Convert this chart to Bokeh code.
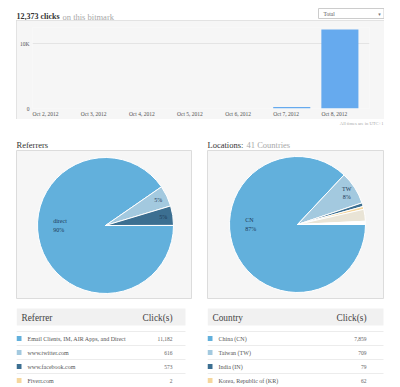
import numpy as np
from bokeh.plotting import figure
from bokeh.layouts import column, row
from bokeh.models import Range1d, FixedTicker, ColumnDataSource
from bokeh.core.properties import value
from bokeh.embed import file_html
from bokeh.resources import INLINE

# ---------------- data ----------------
dates = ["Oct 2, 2012", "Oct 3, 2012", "Oct 4, 2012", "Oct 5, 2012",
         "Oct 6, 2012", "Oct 7, 2012", "Oct 8, 2012"]
daily_clicks = [0, 0, 0, 0, 0, 213, 12160]
y_ticks = [0, 10000]
y_tick_labels = ["0", "10K"]

referrers = ["Email Clients, IM, AIR Apps, and Direct", "www.twitter.com",
             "www.facebook.com", "Fiverr.com"]
referrer_short = ["direct", "", "", ""]
referrer_clicks = [11182, 616, 573, 2]
referrer_colors = ["#62b0dc", "#a3c9df", "#3c6f91", "#f5d79e"]

countries = ["China (CN)", "Taiwan (TW)", "India (IN)", "Korea, Republic of (KR)"]
country_codes = ["CN", "TW", "IN", "KR"]
country_clicks = [7859, 709, 79, 62]
country_colors = ["#62b0dc", "#a3c9df", "#3c6f91", "#f5d79e"]
other_country_codes = ["", ""]
other_country_clicks = [254, 70]
other_country_colors = ["#e9e4d6", "#ffffff"]
n_countries = 41

# ---------------- styles ----------------
FONT = "Liberation Serif"
PANEL = "#f6f6f6"
BORDER = "#dcdcdc"
DARK = "#333333"
GREY = "#a8a8a8"
BAR = "#66aaee"


def base_fig(w, h, xr, yr, **kw):
    p = figure(width=w, height=h, x_range=xr, y_range=yr, output_backend="svg",
               toolbar_location=None, x_axis_location=None, y_axis_location=None,
               min_border=0, min_border_left=0, min_border_right=0,
               min_border_top=0, min_border_bottom=0,
               outline_line_color=None, background_fill_color="white",
               border_fill_color="white", **kw)
    p.xgrid.visible = False
    p.ygrid.visible = False
    return p


# ---------------- header line ----------------
total = sum(daily_clicks)
head = base_fig(384, 20, Range1d(0, 384), Range1d(20, 0))
head.text(x=[16], y=[16], text=[f"{total:,} clicks"], text_font=value(FONT),
          text_font_size="8px", text_font_style="bold", text_color=DARK,
          text_baseline="alphabetic")
head.text(x=[62], y=[16], text=["on this bitmark"], text_font=value(FONT),
          text_font_size="8.5px", text_color=GREY, text_baseline="alphabetic")
head.quad(left=[318], right=[383.5], top=[8], bottom=[18], fill_color="white",
          line_color="#cccccc", line_width=1)
head.text(x=[323], y=[13], text=["Total"], text_font=value(FONT),
          text_font_size="5.5px", text_color="#555555", text_baseline="middle")
head.text(x=[379], y=[13], text=["\u25be"], text_font=value("DejaVu Sans"),
          text_font_size="5px", text_color="#777777", text_baseline="middle",
          text_align="center")

# ---------------- bar chart ----------------
idx = np.arange(len(dates))
bar = figure(width=368, height=99, x_range=Range1d(0, len(dates)),
             y_range=Range1d(0, 12462), output_backend="svg", toolbar_location=None,
             min_border_left=16, min_border_right=15, min_border_top=7,
             min_border_bottom=11, background_fill_color=PANEL,
             border_fill_color=PANEL, outline_line_color=None,
             styles={"outline": f"1px solid {BORDER}", "outline-offset": "-1px"})
bar.vbar(x=idx + 0.385, top=daily_clicks, width=0.77, fill_color=BAR,
         line_color=None)
xt = [float(v) for v in idx + 0.27]
bar.xaxis.ticker = FixedTicker(ticks=xt)
bar.xaxis.major_label_overrides = {t: d for t, d in zip(xt, dates)}
yt = FixedTicker(ticks=y_ticks)
bar.yaxis.ticker = yt
bar.ygrid.ticker = yt
bar.yaxis.major_label_overrides = {float(t): l for t, l in zip(y_ticks, y_tick_labels)}
bar.xgrid.visible = False
bar.ygrid.grid_line_color = "#e4e4e4"
for ax in (bar.xaxis[0], bar.yaxis[0]):
    ax.axis_line_color = None
    ax.major_tick_line_color = None
    ax.minor_tick_line_color = None
    ax.major_tick_out = 0
    ax.major_tick_in = 0
    ax.major_label_text_font = FONT
    ax.major_label_text_font_size = "5.5px"
    ax.major_label_text_color = "#555555"
bar.xaxis.major_label_standoff = 2
bar.yaxis.major_label_standoff = 3
bar.margin = (0, 0, 0, 16)

# ---------------- middle texts ----------------
mid = base_fig(384, 31, Range1d(0, 384), Range1d(31, 0))
mid.text(x=[383], y=[3.5], text=["All times are in UTC+1"], text_font=value(FONT),
         text_font_size="4.6px", text_color="#aaaaaa", text_align="right",
         text_baseline="middle")
mid.text(x=[16], y=[25], text=["Referrers"], text_font=value(FONT),
         text_font_size="8.5px", text_color=DARK, text_baseline="alphabetic")
mid.text(x=[207], y=[25], text=["Locations:"], text_font=value(FONT),
         text_font_size="8.5px", text_color=DARK, text_baseline="alphabetic")
mid.text(x=[246], y=[25], text=[f"{n_countries} Countries"], text_font=value(FONT),
         text_font_size="8.5px", text_color=GREY, text_baseline="alphabetic")


# ---------------- pies ----------------
def make_pie(clicks, colors, short, xr, yr, w):
    R = 68
    vals = np.array(clicks, dtype=float)
    frac = vals / vals.sum()
    ang = frac * 2 * np.pi
    cum_end = np.cumsum(ang)
    cum_start = cum_end - ang
    p = base_fig(w, 149, xr, yr)
    p.background_fill_color = PANEL
    p.border_fill_color = PANEL
    p.outline_line_color = BORDER
    src = ColumnDataSource(dict(start=-cum_end, end=-cum_start, color=colors))
    p.wedge(x=0, y=0, radius=R, start_angle="start", end_angle="end",
            fill_color="color", line_color="white", line_width=1, source=src)
    lx, ly, lt, la = [], [], [], []
    for f, s, e, nm in zip(frac, cum_start, cum_end, short):
        if f < 0.03:
            continue
        pct = f"{round(f * 100)}%"
        txt = f"{nm}\n{pct}" if nm else pct
        if f > 0.5:
            lx.append(-0.77 * R); ly.append(0.0); la.append("left")
        else:
            m = -(s + e) / 2
            lx.append(0.86 * R * np.cos(m)); ly.append(0.86 * R * np.sin(m))
            la.append("center")
        lt.append(txt)
    p.text(x=lx, y=ly, text=lt, text_align=la, text_baseline="middle",
           text_font=value(FONT), text_font_size="6px", text_color="#1d3a57",
           text_line_height=1.4)
    return p


pie_l = make_pie(referrer_clicks, referrer_colors, referrer_short,
                 Range1d(-89, 87), Range1d(-74, 75), 176)
pie_r = make_pie(country_clicks + other_country_clicks,
                 country_colors + other_country_colors,
                 country_codes + other_country_codes,
                 Range1d(-90, 87), Range1d(-75, 74), 177)
pie_l.margin = (0, 0, 0, 16)
pie_r.margin = (0, 0, 0, 15)


# ---------------- tables ----------------
def make_table(names, clicks, colors, header, w, band_w, val_x):
    p = base_fig(w, 87, Range1d(0, w), Range1d(48 / 14, -39 / 14))
    p.quad(left=[0], right=[band_w], top=[-30 / 14], bottom=[-13 / 14],
           fill_color="#f1f1f1", line_color=None)
    p.text(x=[5], y=[-1.5], text=[header], text_font=value(FONT),
           text_font_size="9.3px", text_color="#444444", text_baseline="middle")
    p.text(x=[val_x], y=[-1.5], text=["Click(s)"], text_font=value(FONT),
           text_font_size="9.3px", text_color="#444444", text_baseline="middle",
           text_align="right")
    rows = np.arange(len(names))
    seps = np.arange(-1, len(names)) + 0.5
    p.segment(x0=0, x1=band_w, y0=seps, y1=seps, line_color="#ececec",
              line_width=1)
    p.scatter(x=2.5, y=rows, marker="square", size=5, fill_color=colors,
              line_color=None)
    p.text(x=11, y=rows, text=names, text_font=value(FONT), text_font_size="6px",
           text_color="#555555", text_baseline="middle")
    p.text(x=val_x, y=rows, text=[f"{v:,}" for v in clicks], text_font=value(FONT),
           text_font_size="5.5px", text_color="#666666", text_baseline="middle",
           text_align="right")
    return p


tab_l = make_table(referrers, referrer_clicks, referrer_colors, "Referrer",
                   176, 169, 156)
tab_r = make_table(countries, country_clicks, country_colors, "Country",
                   177, 176, 159)
tab_l.margin = (0, 0, 0, 16)
tab_r.margin = (0, 0, 0, 15)

layout = column(row(head), row(bar), row(mid), row(pie_l, pie_r),
                row(tab_l, tab_r))

open("out.html", "w").write(file_html(layout, INLINE))
